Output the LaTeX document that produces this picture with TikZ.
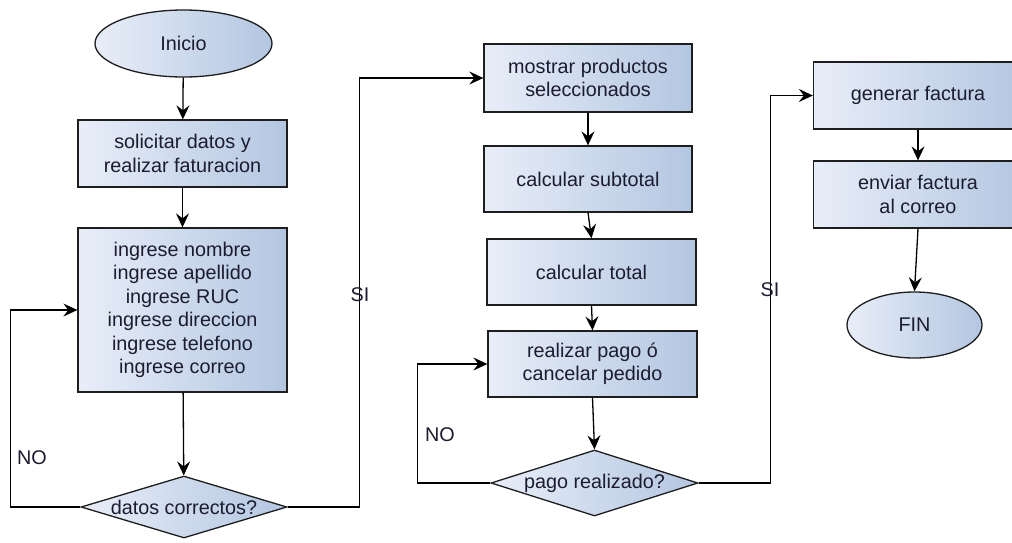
\documentclass[tikz,border=0pt]{standalone}
\usepackage{fontspec}
\setmainfont{Liberation Sans}
\usetikzlibrary{shapes.geometric,arrows.meta}

\definecolor{fillL}{HTML}{E8EEF8}
\definecolor{fillR}{HTML}{B3C6E1}
\definecolor{inkline}{HTML}{1E1E1E}
\definecolor{inktext}{HTML}{1C1C30}

\tikzset{
  base/.style={draw=inkline, line width=1.3pt, left color=fillL, right color=fillR,
    text=inktext, inner sep=0pt, align=center,
    font=\fontsize{19.8}{23.5}\selectfont},
  procbox/.style={base, rectangle, minimum width=209pt, minimum height=67pt},
  term/.style={base, ellipse, minimum width=177pt, minimum height=67pt},
  decide/.style={base, diamond, minimum width=206pt, minimum height=62pt},
  arr/.style={draw=black, line width=1.3pt, -{Stealth[length=14pt,width=13pt,inset=5pt]}},
  lbl/.style={text=inktext, inner sep=0pt, font=\fontsize{19.8}{23.5}\selectfont},
}

\begin{document}
\begin{tikzpicture}[x=1pt,y=-1pt]
\useasboundingbox[fill=white] (0,0) rectangle (1012,542);

% first column: data entry
\node[term] (inicio) at (183.5,43.5) {Inicio};
\node[procbox] (solic) at (182.5,153.5) {solicitar datos y\\realizar faturacion};
\node[procbox, minimum height=164pt] (ingreso) at (182.5,310)
  {ingrese nombre\\ingrese apellido\\ingrese RUC\\ingrese direccion\\ingrese telefono\\ingrese correo};
\node[decide] (datosok) at (184,507) {\makebox[0pt][c]{datos correctos?}};

% second column: order and payment
\node[procbox, minimum width=208pt, minimum height=68pt] (mostrar) at (588,78) {mostrar productos\\seleccionados};
\node[procbox, minimum width=208pt, minimum height=66pt] (subtotal) at (588,179) {calcular subtotal};
\node[procbox, minimum height=66pt] (total) at (591.5,272) {calcular total};
\node[procbox, minimum height=66pt] (pago) at (592.5,364) {realizar pago ó\\cancelar pedido};
\node[decide, minimum width=207pt, minimum height=66pt] (pagook) at (594.5,483) {\makebox[0pt][c]{pago realizado?}};

% third column: invoice
\node[procbox] (generar) at (918,95.5) {generar factura};
\node[procbox] (enviar) at (918,194.5) {enviar factura\\al correo};
\node[term, minimum width=135pt, minimum height=66pt] (fin) at (914.5,325) {FIN};

% straight flow
\draw[arr] (inicio) -- (solic);
\draw[arr] (solic) -- (ingreso);
\draw[arr] (ingreso) -- (datosok);
\draw[arr] (mostrar.south) -- (subtotal.north);
\draw[arr] (subtotal.south) -- (total.north);
\draw[arr] (total.south) -- (pago.north);
\draw[arr] (pago.south) -- (pagook.north);
\draw[arr] (generar) -- (enviar);
\draw[arr] (enviar.south) -- (fin.north);

% decision branches
\draw[arr] (datosok.west) -- ++(-70,0) |- (ingreso.west);
\node[lbl] (no1) at (32,458) {NO};
\draw[arr] (datosok.east) -- ++(72,0) |- (mostrar.west);
\node[lbl] (si1) at (360,295) {SI};

\draw[arr] (pagook.west) -- ++(-73,0) |- (pago.west);
\node[lbl] (no2) at (440,435) {NO};
\draw[arr] (pagook.east) -- ++(72,0) |- (generar.west);
\node[lbl] (si2) at (770,290) {SI};
\end{tikzpicture}
\end{document}
